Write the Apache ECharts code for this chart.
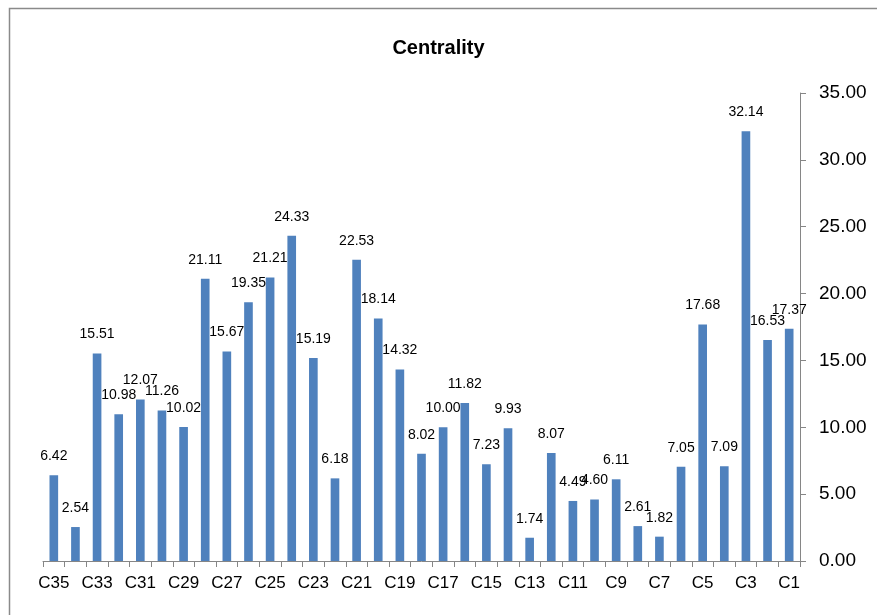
<!DOCTYPE html>
<html>
<head>
<meta charset="utf-8">
<script src="https://cdn.jsdelivr.net/npm/echarts@6/dist/echarts.min.js"></script>
<style>
html,body{margin:0;padding:0;background:#fff;}
#chart{width:877px;height:615px;}
</style>
</head>
<body>
<div id="chart"></div>
<script>
var categories = ['C35','C34','C33','C32','C31','C30','C29','C28','C27','C26','C25','C24','C23','C22','C21','C20','C19','C18','C17','C16','C15','C14','C13','C12','C11','C10','C9','C8','C7','C6','C5','C4','C3','C2','C1'];
var centrality = [6.42,2.54,15.51,10.98,12.07,11.26,10.02,21.11,15.67,19.35,21.21,24.33,15.19,6.18,22.53,18.14,14.32,8.02,10.00,11.82,7.23,9.93,1.74,8.07,4.49,4.60,6.11,2.61,1.82,7.05,17.68,7.09,32.14,16.53,17.37];
var titleText = 'Centrality';
var yMin = 0, yMax = 35, yStep = 5;

var chart = echarts.init(document.getElementById('chart'), null, {renderer:'canvas'});
var font = 'Liberation Sans, Arial, sans-serif';
chart.setOption({
  animation:false,
  backgroundColor:'#ffffff',
  textStyle:{fontFamily:font},
  graphic:[{
    type:'rect',
    shape:{x:9.5,y:8.5,width:900,height:700},
    style:{fill:'none',stroke:'#8a8a8a',lineWidth:1.5},
    silent:true
  }],
  title:{
    text:titleText,
    left:'center',
    top:33,
    textStyle:{fontFamily:font,fontSize:20,fontWeight:'bold',color:'#000'}
  },
  grid:{left:43,right:77,top:93,bottom:54,containLabel:false},
  xAxis:{
    type:'category',
    data:categories,
    boundaryGap:true,
    axisLine:{show:true,lineStyle:{color:'#868686',width:1}},
    axisTick:{show:true,interval:0,length:6,lineStyle:{color:'#868686'}},
    axisLabel:{interval:1,fontSize:17,color:'#000',margin:14,fontFamily:font}
  },
  yAxis:{
    type:'value',
    position:'right',
    min:yMin,max:yMax,interval:yStep,
    splitLine:{show:false},
    axisLine:{show:true,lineStyle:{color:'#868686',width:1}},
    axisTick:{show:true,length:6,lineStyle:{color:'#868686'}},
    axisLabel:{fontSize:19,color:'#000',margin:19,fontFamily:font,
      formatter:function(v){return v.toFixed(2);}}
  },
  series:[{
    type:'bar',
    data:centrality,
    barWidth:'40%',
    itemStyle:{color:'#4f81bd'},
    label:{show:true,position:'top',distance:12,fontSize:14,color:'#000',fontFamily:font,
      formatter:function(p){return p.value.toFixed(2);}}
  }]
});
</script>
</body>
</html>
